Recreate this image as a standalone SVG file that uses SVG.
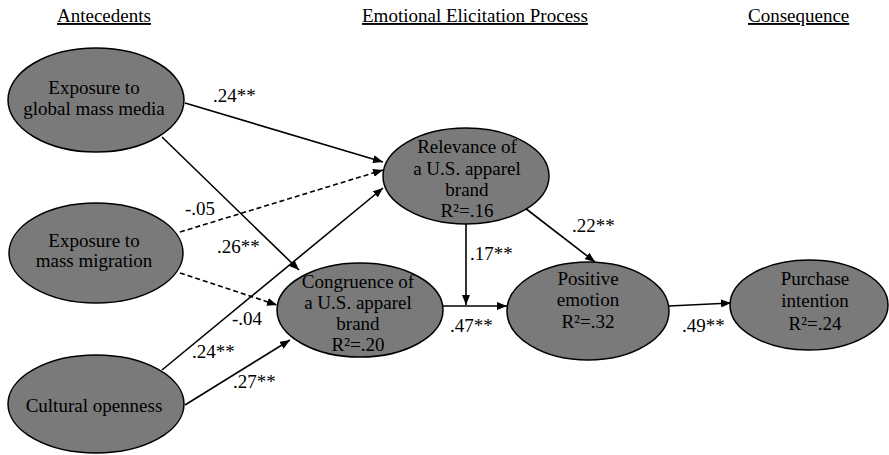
<svg xmlns="http://www.w3.org/2000/svg" width="889" height="455" viewBox="0 0 889 455" font-family="'Liberation Serif', 'DejaVu Serif', serif">
<defs>
<style>
text{font-family:'Liberation Serif','DejaVu Serif',serif}
.hdr{font-size:19px;fill:#000;text-decoration:underline}
.node ellipse{fill:#7a7a7a;stroke:#000;stroke-width:1.5}
.node text{font-size:19px;fill:#000;text-anchor:middle}
.edge{stroke:#000;stroke-width:1.6;fill:none;marker-end:url(#ah)}
.dash{stroke-dasharray:5,3}
.lbl{font-size:19px;fill:#000}
</style>
<marker id="ah" viewBox="0 0 10 8" refX="10" refY="4" markerWidth="10" markerHeight="8" markerUnits="userSpaceOnUse" orient="auto">
<path d="M0,0 L10,4 L0,8 Z" fill="#000"/>
</marker>
</defs>
<rect width="889" height="455" fill="#fff"/>
<g id="headers">
<text class="hdr" x="57" y="22">Antecedents</text>
<text class="hdr" x="362" y="22">Emotional Elicitation Process</text>
<text class="hdr" x="748" y="22">Consequence</text>
</g>
<g id="connectors">
<line class="edge" x1="185" y1="103" x2="383" y2="162"/>
<line class="edge" x1="162" y1="137" x2="299" y2="270"/>
<line class="edge dash" x1="180" y1="232" x2="383" y2="170"/>
<line class="edge dash" x1="180" y1="273" x2="277" y2="305"/>
<line class="edge" x1="162" y1="370" x2="383" y2="188"/>
<line class="edge" x1="185" y1="405" x2="290" y2="340"/>
<line class="edge" x1="466" y1="224" x2="466" y2="305"/>
<line class="edge" x1="442" y1="306" x2="507" y2="306"/>
<line class="edge" x1="525" y1="208" x2="595" y2="262"/>
<line class="edge" x1="669" y1="306" x2="731" y2="303"/>
</g>
<g id="labels">
<text class="lbl" x="213" y="102">.24**</text>
<text class="lbl" x="185" y="215">-.05</text>
<text class="lbl" x="217" y="253">.26**</text>
<text class="lbl" x="232" y="325">-.04</text>
<text class="lbl" x="192" y="358">.24**</text>
<text class="lbl" x="233" y="388">.27**</text>
<text class="lbl" x="470" y="260">.17**</text>
<text class="lbl" x="572" y="232">.22**</text>
<text class="lbl" x="450" y="332">.47**</text>
<text class="lbl" x="682" y="332">.49**</text>
</g>
<g id="media" class="node">
<ellipse cx="96" cy="100" rx="88" ry="52"/>
<text x="94" y="94">Exposure to</text>
<text x="94" y="115">global mass media</text>
</g>
<g id="migration" class="node">
<ellipse cx="96" cy="253" rx="87" ry="50"/>
<text x="94" y="247">Exposure to</text>
<text x="94" y="267">mass migration</text>
</g>
<g id="openness" class="node">
<ellipse cx="96" cy="404" rx="88" ry="49"/>
<text x="94" y="412">Cultural openness</text>
</g>
<g id="relevance" class="node">
<ellipse cx="466" cy="176" rx="83" ry="48"/>
<text x="467" y="153">Relevance of</text>
<text x="467" y="175">a U.S. apparel</text>
<text x="467" y="196">brand</text>
<text x="467" y="217">R²=.16</text>
</g>
<g id="congruence" class="node">
<ellipse cx="360" cy="310" rx="83" ry="47"/>
<text x="358" y="288">Congruence of</text>
<text x="358" y="309">a U.S. apparel</text>
<text x="358" y="330">brand</text>
<text x="358" y="351">R²=.20</text>
</g>
<g id="positive" class="node">
<ellipse cx="588" cy="311" rx="81" ry="49"/>
<text x="588" y="285">Positive</text>
<text x="588" y="306">emotion</text>
<text x="588" y="328">R²=.32</text>
</g>
<g id="purchase" class="node">
<ellipse cx="809" cy="305" rx="79" ry="45"/>
<text x="815" y="285">Purchase</text>
<text x="815" y="307">intention</text>
<text x="815" y="330">R²=.24</text>
</g>
</svg>
